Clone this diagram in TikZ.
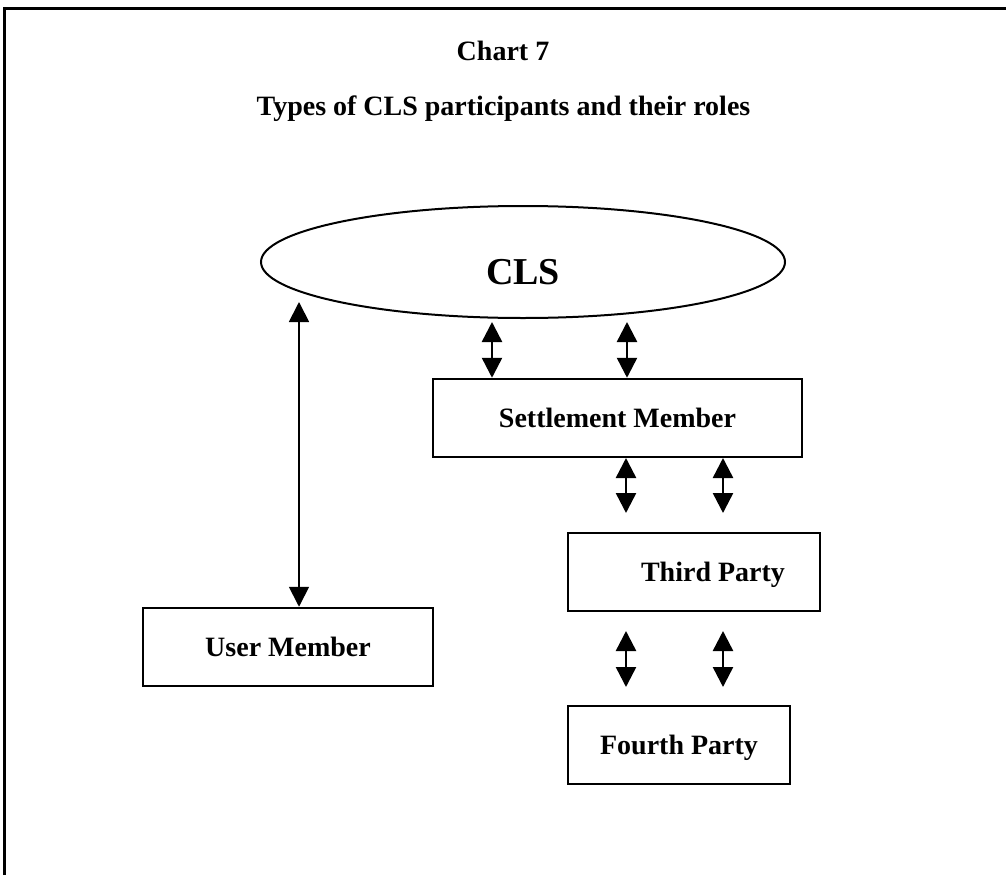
\documentclass[tikz,border=0pt]{standalone}
\usepackage{fontspec}
\setmainfont{Liberation Serif}
\usetikzlibrary{arrows.meta,shapes.geometric}

\tikzset{
  partybox/.style={draw, line width=2.5pt, inner sep=0pt, minimum height=78pt,
    text height=19pt, text depth=0pt, font=\bfseries\fontsize{28}{30}\selectfont},
  twoway/.style={{Triangle[length=20pt,width=20pt]}-{Triangle[length=20pt,width=20pt]}, line width=2.5pt},
  heading/.style={anchor=base, font=\bfseries\fontsize{28}{30}\selectfont}
}

\begin{document}
\begin{tikzpicture}[x=1pt, y=-1pt]
    \useasboundingbox (0,0) rectangle (1006,875);

    % Frame (top and left edges only)
    \draw[line width=3pt] (4,875) -- (4,9) -- (1006,9);

    % Headings
    \node[heading] (chart) at (503,61) {Chart 7};
    \node[heading] (title) at (503.5,115) {Types of CLS participants and their roles};

    % CLS ellipse
    \node[draw, ellipse, line width=2pt, minimum width=524pt, minimum height=112pt,
      text height=45pt, text depth=0pt,
      font=\bfseries\fontsize{38}{40}\selectfont] (cls) at (523,262) {CLS};

    % Participants
    \node[partybox, minimum width=369pt] (sm) at (617.5,418) {Settlement Member};
    \node[partybox, minimum width=252pt] (tp) at (694,572) {\hspace*{38pt}Third Party};
    \node[partybox, minimum width=290pt] (um) at (288,647) {User Member};
    \node[partybox, minimum width=222pt] (fp) at (679,745) {Fourth Party};

    % Arrow positions
    \coordinate (a1) at (492,322);
    \coordinate (a2) at (627,322);
    \coordinate (b1) at (626,458);
    \coordinate (b2) at (723,458);
    \coordinate (c1) at (626,631);
    \coordinate (c2) at (723,631);
    \coordinate (umtip) at (299,302);

    % CLS <-> Settlement Member
    \draw[twoway] (a1) -- (a1 |- sm.north);
    \draw[twoway] (a2) -- (a2 |- sm.north);

    % Settlement Member <-> Third Party
    \draw[twoway] (b1) -- (b1 |- 0,513);
    \draw[twoway] (b2) -- (b2 |- 0,513);

    % Third Party <-> Fourth Party
    \draw[twoway] (c1) -- (c1 |- 0,687);
    \draw[twoway] (c2) -- (c2 |- 0,687);

    % CLS <-> User Member
    \draw[twoway, line width=1.8pt] (umtip) -- (umtip |- um.north);
\end{tikzpicture}
\end{document}
